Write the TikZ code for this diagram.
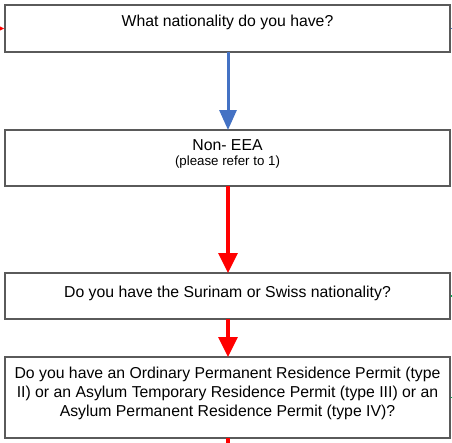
\documentclass[tikz,border=0pt]{standalone}
\usepackage{fontspec}
\setmainfont{Liberation Sans}
\usetikzlibrary{arrows.meta}
\definecolor{boxgray}{RGB}{90,90,90}
\definecolor{flowblue}{RGB}{68,114,196}
\definecolor{flowred}{RGB}{255,0,0}
\definecolor{flowgreen}{RGB}{0,176,80}
\tikzset{
  qbox/.style={draw=boxgray, line width=1.6pt, fill=white, rectangle, inner sep=0pt},
  maintxt/.style={inner sep=0pt, font=\fontsize{15.8}{19}\selectfont, align=center},
  smalltxt/.style={inner sep=0pt, font=\fontsize{13.3}{16}\selectfont},
  bluearrow/.style={draw=flowblue, line width=3pt, -{Triangle[length=20pt,width=17pt]}},
  redarrow/.style={draw=flowred, line width=3.2pt, -{Triangle[length=20pt,width=19pt]}},
  redline/.style={draw=flowred, line width=3.2pt},
  stub/.style={line width=1.5pt}
}
\begin{document}
\begin{tikzpicture}[x=1pt,y=-1pt]
\useasboundingbox (0,0) rectangle (452,442);
\clip (0,0) rectangle (452,442);
\fill[white] (0,0) rectangle (452,442);
% boxes
\node[qbox, minimum width=445pt, minimum height=47pt] (b1) at (227.5,28.5) {};
\node[qbox, minimum width=445pt, minimum height=56pt] (b2) at (227.5,158) {};
\node[qbox, minimum width=445pt, minimum height=46pt] (b3) at (227.5,296) {};
\node[qbox, minimum width=445pt, minimum height=81pt] (b4) at (227.5,397.5) {};
% texts
\node[maintxt, anchor=base] (t1) at (227.5,26) {What nationality do you have?};
\node[maintxt, anchor=base] (t2) at (227.5,150) {Non- EEA};
\node[smalltxt, anchor=base] (t2b) at (227.5,165) {(please refer to 1)};
\node[maintxt, anchor=base] (t3) at (227.5,297.3) {Do you have the Surinam or Swiss nationality?};
\node[maintxt] (t4) at (227.5,393.3) {Do you have an Ordinary Permanent Residence Permit (type\\ II) or an Asylum Temporary Residence Permit (type III) or an\\ Asylum Permanent Residence Permit (type IV)?};
% connectors
\coordinate (b1x) at (228,52);
\coordinate (b2x) at (228,130);
\draw[bluearrow] (b1x) -- (b2x);
\coordinate (b2y) at (228,186);
\coordinate (b3y) at (228,273);
\draw[redarrow] (b2y) -- (b3y);
\coordinate (b3z) at (228,319);
\coordinate (b4z) at (228,357);
\draw[redarrow] (b3z) -- (b4z);
\coordinate (b4w) at (228,438);
\coordinate (downend) at (228,470);
\draw[redline] (b4w) -- (downend);
\coordinate (leftin) at (-40,28.5);
\draw[redarrow] (leftin) -- (b1.west);
% right-side stubs
\coordinate (s1) at (460,28.5);
\draw[stub, draw=flowblue] (b1.east) -- (s1);
\coordinate (s3) at (460,296);
\draw[stub, draw=flowgreen] (b3.east) -- (s3);
\coordinate (s4) at (460,397.5);
\draw[stub, draw=flowgreen] (b4.east) -- (s4);
\end{tikzpicture}
\end{document}
